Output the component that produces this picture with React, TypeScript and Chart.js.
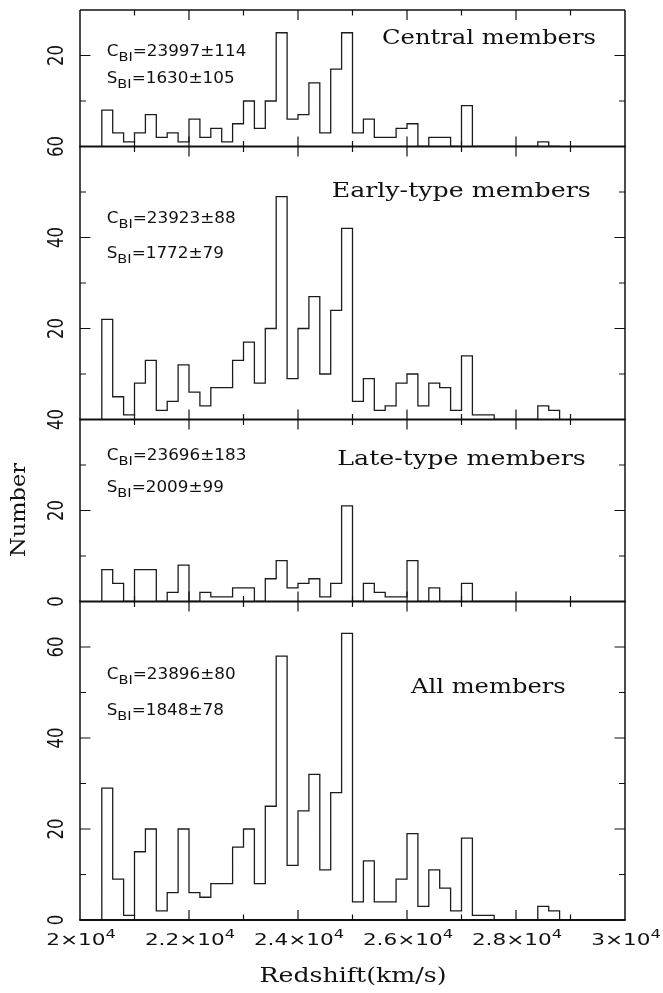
import { useEffect, useRef } from 'react';
import { Chart, registerables } from 'chart.js';

Chart.register(...registerables);

// Histogram binning, km/s
const binStart = 20400;
const binWidth = 200;

// Galaxy counts per 200 km/s bin, starting at 20400 km/s
const centralCounts = [8, 3, 1, 3, 7, 2, 3, 1, 6, 2, 4, 1, 5, 10, 4, 10, 25, 6, 7, 14, 3, 17, 25, 3, 6, 2, 2, 4, 5, 0, 2, 2, 0, 9, 0, 0, 0, 0, 0, 0, 1, 0];
const earlyCounts = [22, 5, 1, 8, 13, 2, 4, 12, 6, 3, 7, 7, 13, 17, 8, 20, 49, 9, 20, 27, 10, 24, 42, 4, 9, 2, 3, 8, 10, 3, 8, 7, 2, 14, 1, 1, 0, 0, 0, 0, 3, 2];
const lateCounts = [7, 4, 0, 7, 7, 0, 2, 8, 0, 2, 1, 1, 3, 3, 0, 5, 9, 3, 4, 5, 1, 4, 21, 0, 4, 2, 1, 1, 9, 0, 3, 0, 0, 4, 0, 0, 0, 0, 0, 0, 0, 0];
const allCounts = [29, 9, 1, 15, 20, 2, 6, 20, 6, 5, 8, 8, 16, 20, 8, 25, 58, 12, 24, 32, 11, 28, 63, 4, 13, 4, 4, 9, 19, 3, 11, 7, 2, 18, 1, 1, 0, 0, 0, 0, 3, 2];

const panelTitles = ['Central members', 'Early-type members', 'Late-type members', 'All members'];
const panelMax = [30, 60, 40, 70];
const cbiValues = ['23997±114', '23923±88', '23696±183', '23896±80'];
const sbiValues = ['1630±105', '1772±79', '2009±99', '1848±78'];

const xMin = 20000;
const xMax = 30000;
const xLabelValues = [20000, 22000, 24000, 26000, 28000, 30000];
const xLabelMantissas = ['2', '2.2', '2.4', '2.6', '2.8', '3'];
const xLabelExponent = '4';
const xTitle = 'Redshift(km/s)';
const yTitle = 'Number';

const panelCounts = [centralCounts, earlyCounts, lateCounts, allCounts];
const axisIds = ['yCentral', 'yEarly', 'yLate', 'yAll'];

const SERIF = "'DejaVu Serif', serif";
const SANS = "'DejaVu Sans', sans-serif";
const INK = '#111';

// title boxes per panel: left edge, baseline offset from panel top, drawn width
const titleBoxes = [
  { left: 382, dy: 33.5, width: 214 },
  { left: 331.7, dy: 50.2, width: 259 },
  { left: 337.3, dy: 45.5, width: 248.4 },
  { left: 411, dy: 91.8, width: 154.7 },
];
// baselines of the C_BI and S_BI lines, offset from panel top
const noteBaselines = [
  [46, 73.3],
  [76.8, 111.8],
  [40.5, 72.2],
  [77.8, 113.5],
];

type Run = { text: string; size: number; dy?: number };

function runsWidth(ctx: CanvasRenderingContext2D, runs: Run[], family: string) {
  let w = 0;
  for (const r of runs) {
    ctx.font = `${r.size}px ${family}`;
    w += ctx.measureText(r.text).width;
  }
  return w;
}

function drawRuns(
  ctx: CanvasRenderingContext2D,
  runs: Run[],
  x: number,
  baseline: number,
  family: string,
  sx: number,
  align: 'left' | 'center'
) {
  const natural = runsWidth(ctx, runs, family);
  const left = align === 'center' ? x - (natural * sx) / 2 : x;
  ctx.save();
  ctx.translate(left, baseline);
  ctx.scale(sx, 1);
  ctx.textAlign = 'left';
  ctx.textBaseline = 'alphabetic';
  ctx.fillStyle = INK;
  let cx = 0;
  for (const r of runs) {
    ctx.font = `${r.size}px ${family}`;
    ctx.fillText(r.text, cx, r.dy ?? 0);
    cx += ctx.measureText(r.text).width;
  }
  ctx.restore();
}

function drawRotated(
  ctx: CanvasRenderingContext2D,
  text: string,
  cx: number,
  cy: number,
  family: string,
  size: number,
  along: number,
  cross: number
) {
  ctx.save();
  ctx.font = `${size}px ${family}`;
  ctx.fillStyle = INK;
  ctx.translate(cx, cy);
  ctx.rotate(-Math.PI / 2);
  ctx.scale(along, cross);
  ctx.textAlign = 'center';
  ctx.textBaseline = 'alphabetic';
  ctx.fillText(text, 0, (size * 0.729) / 2);
  ctx.restore();
}

function stepPoints(counts: number[]) {
  const pts = [{ x: binStart, y: 0 }];
  counts.forEach((c, i) => pts.push({ x: binStart + i * binWidth, y: c }));
  pts.push({ x: binStart + counts.length * binWidth, y: 0 });
  return pts;
}

const framePlugin = {
  id: 'panelFrame',
  afterDatasetsDraw(chart: any) {
    const ctx: CanvasRenderingContext2D = chart.ctx;
    const xs = chart.scales.x;
    const { left, right, top, bottom } = chart.chartArea;

    ctx.save();
    ctx.strokeStyle = INK;
    ctx.lineCap = 'butt';

    // vertical frame edges
    ctx.lineWidth = 1.5;
    ctx.beginPath();
    ctx.moveTo(left, top);
    ctx.lineTo(left, bottom);
    ctx.moveTo(right, top);
    ctx.lineTo(right, bottom);
    ctx.stroke();

    // top edge
    ctx.lineWidth = 1.5;
    ctx.beginPath();
    ctx.moveTo(left, top);
    ctx.lineTo(right, top);
    ctx.stroke();

    axisIds.forEach((id, p) => {
      const ys = chart.scales[id];
      const max = panelMax[p];
      const pTop = ys.getPixelForValue(max);
      const pBottom = ys.getPixelForValue(0);

      // panel bottom edge
      ctx.lineWidth = 2;
      ctx.beginPath();
      ctx.moveTo(left - 0.75, pBottom);
      ctx.lineTo(right + 0.75, pBottom);
      ctx.stroke();

      // inward ticks on left and right
      ctx.lineWidth = 1.2;
      ctx.beginPath();
      for (let v = 10; v < max; v += 10) {
        const y = ys.getPixelForValue(v);
        const len = v % 20 === 0 ? 10.5 : 6;
        ctx.moveTo(left, y);
        ctx.lineTo(left + len, y);
        ctx.moveTo(right, y);
        ctx.lineTo(right - len, y);
      }
      // inward ticks on panel top and bottom
      for (let v = xMin + 1000; v < xMax; v += 1000) {
        const x = xs.getPixelForValue(v);
        const len = v % 2000 === 0 ? 10 : 5.5;
        ctx.moveTo(x, pBottom);
        ctx.lineTo(x, pBottom - len);
        ctx.moveTo(x, pTop);
        ctx.lineTo(x, pTop + len);
      }
      ctx.stroke();

      // rotated count labels
      const showZero = p === axisIds.length - 1 || panelMax[p + 1] % 20 !== 0;
      for (let v = 0; v <= max; v += 20) {
        if (v === 0 && !showZero) continue;
        drawRotated(ctx, String(v), 55.5, ys.getPixelForValue(v), SANS, 16, 1.03, 1.32);
      }

      // panel title
      const tb = titleBoxes[p];
      const titleRuns: Run[] = [{ text: panelTitles[p], size: 20 }];
      const tw = runsWidth(ctx, titleRuns, SERIF);
      drawRuns(ctx, titleRuns, tb.left, pTop + tb.dy, SERIF, tb.width / tw, 'left');

      // biweight location and scale
      const [cb, sb] = noteBaselines[p];
      drawRuns(
        ctx,
        [
          { text: 'C', size: 15 },
          { text: 'BI', size: 13, dy: 5 },
          { text: '=' + cbiValues[p], size: 15 },
        ],
        106.7,
        pTop + cb,
        SANS,
        1.12,
        'left'
      );
      drawRuns(
        ctx,
        [
          { text: 'S', size: 15 },
          { text: 'BI', size: 13, dy: 5 },
          { text: '=' + sbiValues[p], size: 15 },
        ],
        106.7,
        pTop + sb,
        SANS,
        1.12,
        'left'
      );
    });

    // redshift tick labels
    xLabelValues.forEach((v, i) => {
      drawRuns(
        ctx,
        [
          { text: xLabelMantissas[i] + '×10', size: 16 },
          { text: xLabelExponent, size: 12, dy: -7.5 },
        ],
        xs.getPixelForValue(v) + 1,
        945,
        SANS,
        1.35,
        'center'
      );
    });

    // axis titles
    const xtRuns: Run[] = [{ text: xTitle, size: 20 }];
    const xtw = runsWidth(ctx, xtRuns, SERIF);
    drawRuns(ctx, xtRuns, 353, 982, SERIF, 187 / xtw, 'center');

    ctx.font = `20px ${SERIF}`;
    const ytw = ctx.measureText(yTitle).width;
    drawRotated(ctx, yTitle, 17.5, 510, SERIF, 20, 94 / ytw, 1.0);

    ctx.restore();
  },
};

export default function App() {
  const canvasRef = useRef<HTMLCanvasElement>(null);

  useEffect(() => {
    const canvas = canvasRef.current;
    if (!canvas) return;

    const datasets = panelCounts.map((counts, p) => ({
      label: panelTitles[p],
      data: stepPoints(counts),
      yAxisID: axisIds[p],
      stepped: 'before' as const,
      borderColor: '#1c1c1c',
      borderWidth: 1.3,
      pointRadius: 0,
      fill: false,
    }));

    const yScale = (p: number) => ({
      type: 'linear' as const,
      position: 'left' as const,
      stack: 'panels',
      stackWeight: panelMax[p],
      weight: axisIds.length - p,
      min: 0,
      max: panelMax[p],
      display: false,
    });

    const chart = new Chart(canvas, {
      type: 'line',
      data: { datasets },
      options: {
        responsive: false,
        animation: false,
        devicePixelRatio: 1,
        layout: { padding: { left: 80, right: 38, top: 10, bottom: 73 } },
        plugins: {
          legend: { display: false },
          tooltip: { enabled: false },
        },
        scales: {
          x: { type: 'linear', min: xMin, max: xMax, display: false },
          [axisIds[0]]: yScale(0),
          [axisIds[1]]: yScale(1),
          [axisIds[2]]: yScale(2),
          [axisIds[3]]: yScale(3),
        } as any,
      },
      plugins: [framePlugin],
    });

    return () => chart.destroy();
  }, []);

  return (
    <div style={{ position: 'absolute', left: 0, top: 0, width: 663, height: 993, background: '#fff' }}>
      <canvas ref={canvasRef} width={663} height={993} style={{ display: 'block', width: 663, height: 993 }} />
    </div>
  );
}
